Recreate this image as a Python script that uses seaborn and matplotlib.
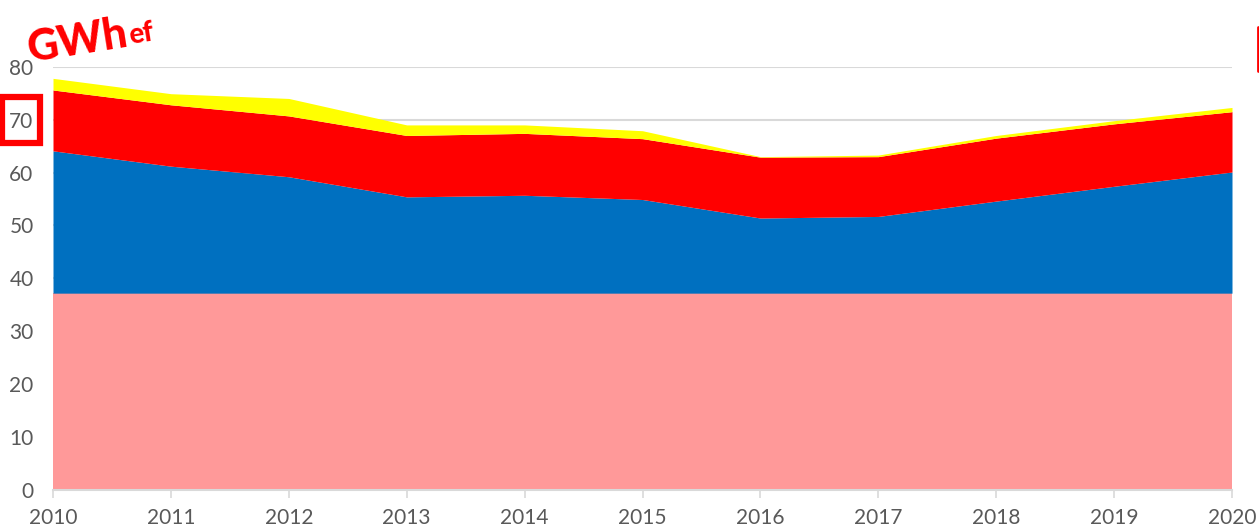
import matplotlib
matplotlib.use("Agg")
import matplotlib.pyplot as plt
import seaborn as sns
from matplotlib.patches import Rectangle

years = [2010, 2011, 2012, 2013, 2014, 2015, 2016, 2017, 2018, 2019, 2020]

base_top = [37.2] * 11
blue_top = [64.1, 61.2, 59.2, 55.4, 55.7, 54.9, 51.4, 51.7, 54.6, 57.4, 60.1]
red_top = [75.6, 72.8, 70.7, 67.0, 67.4, 66.4, 62.9, 63.0, 66.5, 69.2, 71.5]
yellow_top = [77.8, 74.9, 74.0, 69.0, 69.0, 67.9, 63.0, 63.3, 67.0, 69.8, 72.3]

layer_pink = base_top
layer_blue = [b - p for b, p in zip(blue_top, base_top)]
layer_red = [r - b for r, b in zip(red_top, blue_top)]
layer_yellow = [y - r for y, r in zip(yellow_top, red_top)]

colors = ["#FF9999", "#0070C0", "#FF0000", "#FFFF00"]
y_ticks = list(range(0, 81, 10))

sns.set_theme(style="white")
plt.rcParams["font.family"] = ["Lato", "DejaVu Sans"]

fig = plt.figure(figsize=(12.59, 5.29), dpi=100)
ax = fig.add_axes([53 / 1259, 1 - 490 / 529, (1232 - 53) / 1259, (490 - 66.7) / 529])

ax.stackplot(years, layer_pink, layer_blue, layer_red, layer_yellow,
             colors=colors, linewidth=0, zorder=2)

ax.set_xlim(2010, 2020)
ax.set_ylim(0, 80)
ax.set_xticks(years)
ax.set_yticks(y_ticks)
ax.yaxis.grid(True, color="#D9D9D9", linewidth=1.5, zorder=0)
ax.set_axisbelow(True)

for side in ["top", "right", "left"]:
    ax.spines[side].set_visible(False)
ax.spines["bottom"].set_color("#D9D9D9")
ax.spines["bottom"].set_linewidth(1.5)
ax.spines["bottom"].set_zorder(3)

ax.tick_params(axis="x", colors="#595959", labelsize=15, length=6, width=1.2,
               direction="out", pad=7, color="#D9D9D9", bottom=True)
ax.tick_params(axis="y", colors="#595959", labelsize=15, length=0, pad=14)

# unit label, slightly tilted
fig.text(24 / 1259, 1 - 62 / 529, "GWh", color="#FF0000", fontsize=31,
         fontweight="black", rotation=9, ha="left", va="baseline")
fig.text(127 / 1259, 1 - 44 / 529, "ef", color="#FF0000", fontsize=20,
         fontweight="black", rotation=9, ha="left", va="baseline")

# highlight box around the 70 tick
fig.patches.append(Rectangle((2 / 1259, 1 - 143 / 529), 38 / 1259, 46 / 529,
                             transform=fig.transFigure, fill=False,
                             edgecolor="#FF0000", linewidth=4.5))
# edge of a second box cut off at the right
fig.lines.append(plt.Line2D([1257.5 / 1259, 1257.5 / 1259],
                            [1 - 71 / 529, 1 - 27 / 529],
                            transform=fig.transFigure, color="#FF0000",
                            linewidth=2))

fig.savefig("out.png", dpi=100)
